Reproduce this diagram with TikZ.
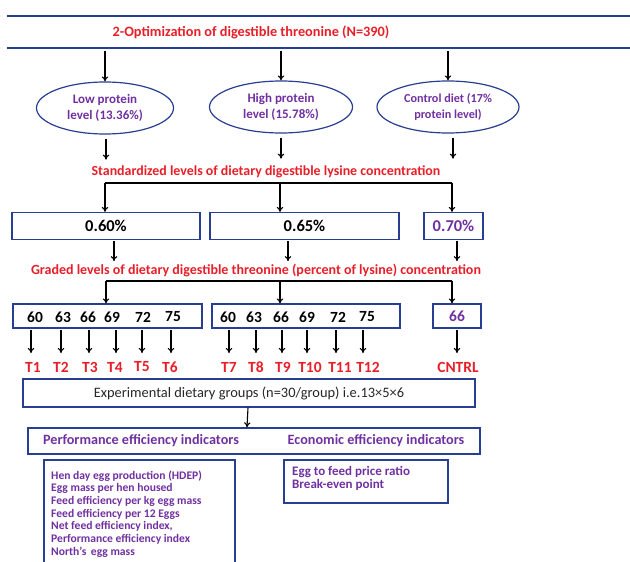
\documentclass[tikz,border=0pt]{standalone}
\usepackage{fontspec}
\setmainfont{Carlito}
\usepackage{tikz}
\tikzset{>=stealth}
\usetikzlibrary{arrows.meta, positioning, shapes.geometric}
\definecolor{frameblue}{RGB}{40,62,145}
\definecolor{headred}{RGB}{232,30,40}
\definecolor{textpurple}{RGB}{112,48,160}
\tikzset{
  dn/.style={->,>={To[length=5pt,width=6.5pt]},line width=1.1pt},
  redhead/.style={text=headred,font=\bfseries\fontsize{13.9}{15}\selectfont},
  oval/.style={ellipse,draw=frameblue,line width=1.2pt,minimum width=137pt,minimum height=52pt,
    text=textpurple,font=\bfseries\fontsize{13}{15.5}\selectfont,align=center,inner sep=0pt},
  lvlbox/.style={draw=frameblue,line width=1.2pt,minimum height=27pt,font=\bfseries\fontsize{16.5}{18}\selectfont,inner sep=0pt},
  numbox/.style={draw=frameblue,line width=1.2pt,minimum height=24pt,inner sep=0pt},
  num/.style={font=\bfseries\fontsize{15.5}{17}\selectfont,inner sep=1pt},
  tlab/.style={text=headred,font=\bfseries\fontsize{15.5}{17}\selectfont,inner sep=1pt},
  listtext/.style={text=textpurple,font=\bfseries\fontsize{11.6}{12.65}\selectfont,align=left,inner sep=0pt}
}
\begin{document}
\begin{tikzpicture}[x=1pt,y=-1pt]
  \useasboundingbox (0,0) rectangle (630,562);
  \begin{scope}
  \clip (0,0) rectangle (630,562);

  % title band
  \draw[frameblue,line width=1.6pt] (7,16) -- (630,16);
  \draw[frameblue,line width=1.6pt] (7,48) -- (630,48);
  \node[redhead,font=\bfseries\fontsize{14.3}{16}\selectfont] (title) at (251,32) {2-Optimization of digestible threonine (N=390)};
  \coordinate (b1) at (105,51);
  \coordinate (b2) at (281,51);
  \coordinate (b3) at (448,51);

  % protein levels
  \node[oval] (low) at (105,108) {Low protein\\level (13.36\%)};
  \node[oval,minimum width=143pt] (high) at (281,107) {High protein\\level (15.78\%)};
  \node[oval,minimum width=142pt,font=\bfseries\fontsize{12.2}{15.5}\selectfont] (ctrl) at (448,107) {Control diet (17\%\\protein level)};
  \draw[dn] (b1) -- (b1|-low.north);
  \draw[dn] (b2) -- (b2|-high.north);
  \draw[dn] (b3) -- (b3|-ctrl.north);

  \node[redhead] (lys) at (266,172) {Standardized levels of dietary digestible lysine concentration};
  \draw[dn] ([shift={(1,4)}]low.south) -- ++(0,21);
  \draw[dn] ([shift={(0,4)}]high.south) -- ++(0,21);
  \draw[dn] ([shift={(5,4)}]ctrl.south) -- ++(0,21);

  % lysine boxes
  \node[lvlbox,minimum width=188pt] (p60) at (106,226) {0.60\%};
  \node[lvlbox,minimum width=189pt] (p65) at (304.5,226) {0.65\%};
  \node[lvlbox,minimum width=59pt,text=textpurple] (p70) at (453.5,226) {0.70\%};
  \coordinate (k1) at (105,183);
  \coordinate (k2) at (280,183);
  \coordinate (k3) at (452,183);
  \draw[line width=1.1pt] (k1) -- (k3);
  \draw[dn] (k1) -- (k1|-p60.north);
  \draw[dn] (k2) -- (k2|-p65.north);
  \draw[dn] (k3) -- (k3|-p70.north);

  \node[redhead,font=\bfseries\fontsize{14}{15}\selectfont] (thr) at (256,270) {Graded levels of dietary digestible threonine (percent of lysine) concentration};
  \draw[dn] ([shift={(8,1)}]p60.south) -- ++(0,20);
  \draw[dn] ([shift={(-16.5,1)}]p65.south) -- ++(0,20);
  \draw[dn] ([shift={(3.5,1)}]p70.south) -- ++(0,20);

  % threonine boxes
  \node[numbox,minimum width=189pt] (g1) at (107.5,316) {};
  \node[numbox,minimum width=188pt] (g2) at (306,316) {};
  \node[numbox,minimum width=48pt] (g3) at (457,316) {};
  \coordinate (m1) at (106,281);
  \coordinate (m2) at (280,281);
  \coordinate (m3) at (452,281);
  \draw[line width=1.1pt] (m1) -- (m3);
  \draw[dn] (m1) -- (m1|-g1.north);
  \draw[dn] (m2) -- (m2|-g2.north);
  \draw[dn] (m3) -- (m3|-g3.north);

  \node[num] (n1) at (35,317) {60};
  \node[num] (n2) at (63,317) {63};
  \node[num] (n3) at (88,317) {66};
  \node[num] (n4) at (112,317) {69};
  \node[num] (n5) at (143,317) {72};
  \node[num] (n6) at (173,317) {75};
  \node[num] (n7) at (228,317) {60};
  \node[num] (n8) at (254,317) {63};
  \node[num] (n9) at (281,317) {66};
  \node[num] (n10) at (307,317) {69};
  \node[num] (n11) at (338,317) {72};
  \node[num] (n12) at (367,317) {75};
  \node[num,text=textpurple] (n13) at (457,316) {66};

  % treatments
  \node[tlab] (t1) at (33,367) {T1};
  \node[tlab] (t2) at (61,367) {T2};
  \node[tlab] (t3) at (90,367) {T3};
  \node[tlab] (t4) at (115,367) {T4};
  \node[tlab] (t5) at (142,367) {T5};
  \node[tlab] (t6) at (170,367) {T6};
  \node[tlab] (t7) at (229,367) {T7};
  \node[tlab] (t8) at (256,367) {T8};
  \node[tlab] (t9) at (283,367) {T9};
  \node[tlab] (t10) at (310,367) {T10};
  \node[tlab] (t11) at (340,367) {T11};
  \node[tlab] (t12) at (368,367) {T12};
  \node[tlab] (t13) at (458,367) {CNTRL};
  \foreach \x/\t in {31/t1,61/t2,89/t3,116/t4,142/t5,171/t6,229/t7,256/t8,282/t9,307/t10,336/t11,363/t12,457/t13}
    \draw[dn] (\x,330) -- (\x,353);

  % experimental groups
  \node[draw=frameblue,line width=1.2pt,minimum width=452pt,minimum height=28pt,inner sep=0pt,
    text=black!85,font=\fontsize{14.4}{16}\selectfont] (grp) at (249,393) {Experimental dietary groups (n=30/group) i.e.13×5×6};

  % indicators
  \node[draw=frameblue,line width=1.4pt,minimum width=452pt,minimum height=26pt,inner sep=0pt] (ind) at (254,441) {};
  \draw[dn] ([xshift=-1pt]grp.south) -- ([xshift=-7pt]ind.north);
  \node[text=textpurple,font=\bfseries\fontsize{14.2}{16}\selectfont] (perf) at (141,441) {Performance efficiency indicators};
  \node[text=textpurple,font=\bfseries\fontsize{14.2}{16}\selectfont] (econ) at (376,441) {Economic efficiency indicators};

  \draw[frameblue,line width=1.3pt] (44,580) |- (235,460) -- (235,580);
  \node[listtext,anchor=north west] (plist) at (51,470.5) {Hen day egg production (HDEP)\\Egg mass per hen housed\\Feed efficiency per kg egg mass\\Feed efficiency per 12 Eggs\\Net feed efficiency index,\\Performance efficiency index\\North’s\, egg mass};
  \node[draw=frameblue,line width=1.3pt,minimum width=164pt,minimum height=43pt,inner sep=0pt] (ebox) at (366,481.5) {};
  \node[listtext,anchor=north west,font=\bfseries\fontsize{13}{13}\selectfont] (elist) at (292,466) {Egg to feed price ratio\\Break-even point};
  \end{scope}
\end{tikzpicture}
\end{document}
